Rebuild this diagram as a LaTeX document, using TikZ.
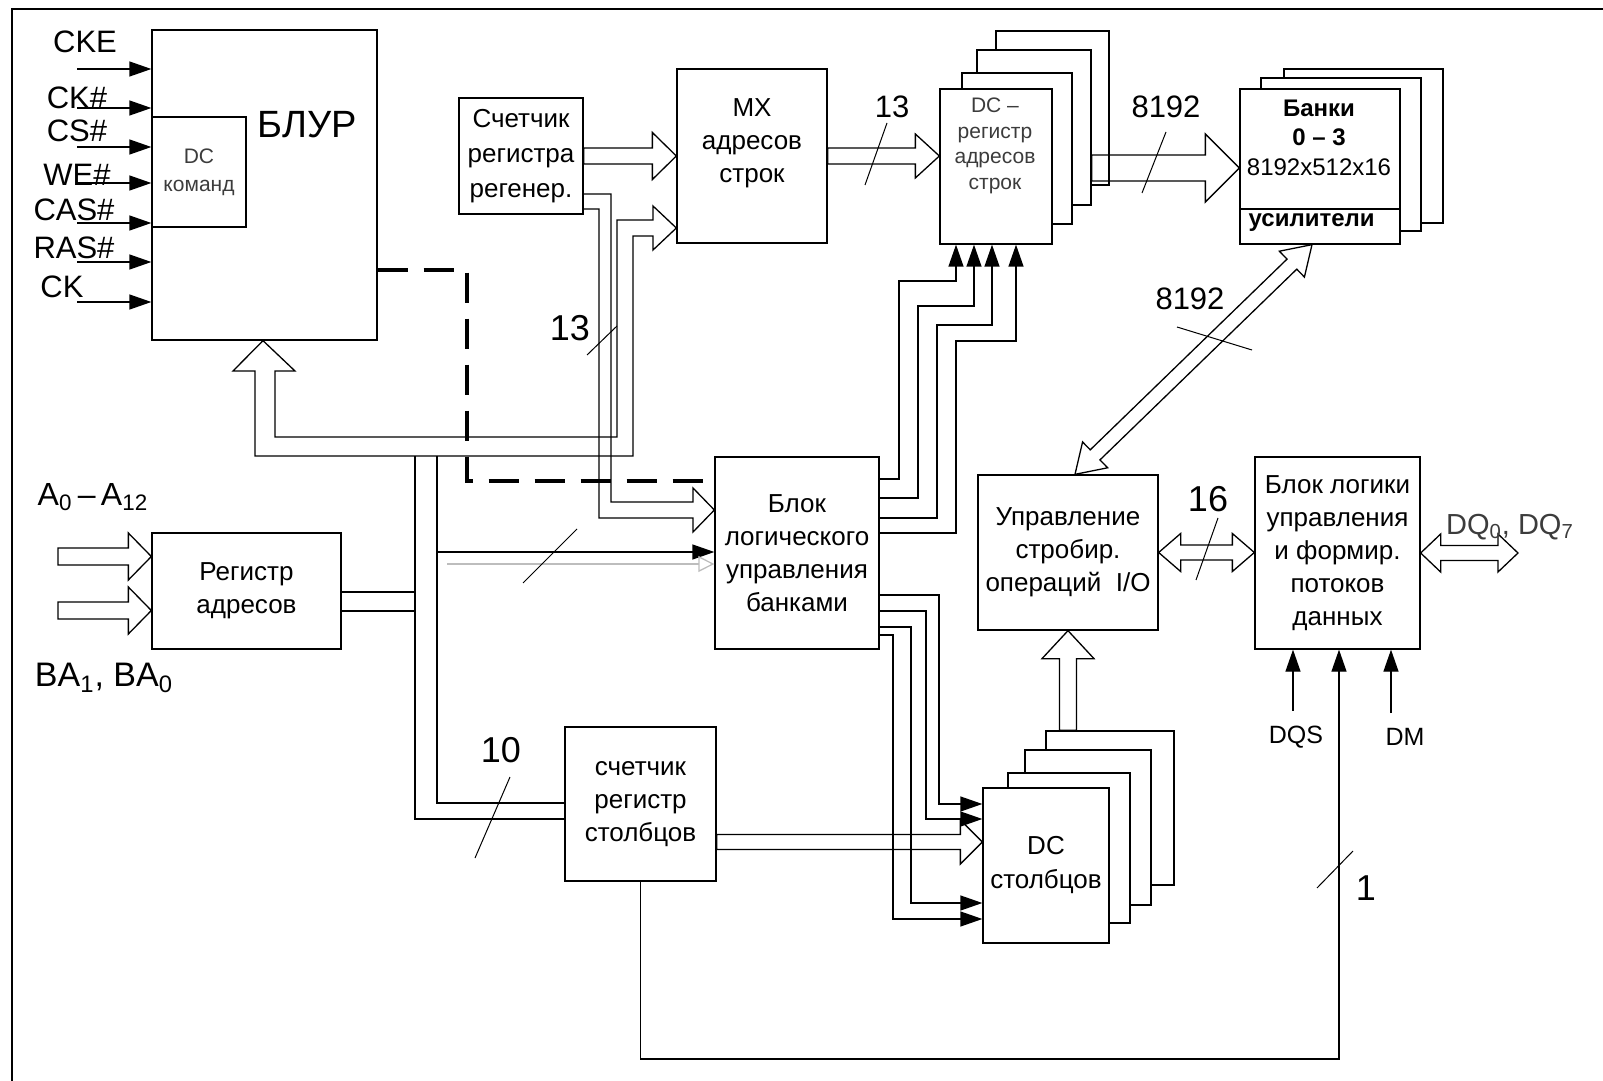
\documentclass[tikz,border=0pt]{standalone}
\usepackage{fontspec}
\setmainfont{Liberation Sans}
\usepackage{tikz}
\usetikzlibrary{arrows.meta,calc}
\definecolor{Faint}{HTML}{3C3C3C}
\definecolor{Ghost}{HTML}{BDBDBD}
\tikzset{
  blk/.style={draw,fill=white,inner sep=0pt,align=center,font=\fontsize{13}{16.5}\selectfont},
  btxt/.style={align=center,font=\fontsize{13}{16.5}\selectfont},
  sig/.style={-{Triangle[length=11pt,width=7.5pt]}},
  pinlbl/.style={font=\fontsize{15.5}{18}\selectfont},
  wlbl/.style={font=\fontsize{15.5}{18}\selectfont},
  wlblbig/.style={font=\fontsize{18}{21}\selectfont},
  sigtxt/.style={font=\fontsize{12.5}{15}\selectfont},
  dashctl/.style={line width=2pt,dash pattern=on 15pt off 8pt},
  busmark/.style={line width=0.5pt}
}
\newcommand{\busarrow}[5]{%
  \coordinate (hb) at ($(#5)!#1!(#4)$);
  \draw ($(#4)!#3!90:(#5)$) -- ($(hb)!#3!-90:(#4)$) -- ($(hb)!#2!-90:(#4)$)
    -- (#5) -- ($(hb)!#2!90:(#4)$) -- ($(hb)!#3!90:(#4)$) -- ($(#4)!#3!-90:(#5)$) -- cycle;}
\newcommand{\biarrow}[5]{%
  \coordinate (ha) at ($(#4)!#1!(#5)$);
  \coordinate (hb) at ($(#5)!#1!(#4)$);
  \draw (#4) -- ($(ha)!#2!90:(#5)$) -- ($(ha)!#3!90:(#5)$) -- ($(hb)!#3!-90:(#4)$)
    -- ($(hb)!#2!-90:(#4)$) -- (#5) -- ($(hb)!#2!90:(#4)$) -- ($(hb)!#3!90:(#4)$)
    -- ($(ha)!#3!-90:(#5)$) -- ($(ha)!#2!-90:(#5)$) -- cycle;}

\begin{document}
\begin{tikzpicture}[x=0.5pt,y=-0.5pt,line width=0.65pt]
  \useasboundingbox (0,0) rectangle (1603,1081);
  \draw[line width=1.2pt] (12,1081) -- (12,9) -- (1603,9);

  \node[blk,minimum width=112.5pt,minimum height=155pt] (blur) at (264.5,185) {};
  \node[font=\fontsize{19}{22}\selectfont] (blurt) at (307,125) {БЛУР};
  \node[blk,minimum width=47pt,minimum height=55pt,text=Faint,font=\fontsize{10.5}{14}\selectfont] (dccmd) at (199,172) {DC\\команд};
  \node[blk,minimum width=62pt,minimum height=58pt,font=\fontsize{13}{17.5}\selectfont] (regen) at (521,156) {Счетчик\\регистра\\регенер.};
  \node[blk,minimum width=75pt,minimum height=87pt] (mx) at (752,156) {};
  \node[btxt] (mxt) at (752,143) {MX\\адресов\\строк};

  \node[blk,minimum width=56.5pt,minimum height=77pt] (dcrow4) at (1052.5,108) {};
  \node[blk,minimum width=57pt,minimum height=77.5pt] (dcrow3) at (1034,127.5) {};
  \node[blk,minimum width=55pt,minimum height=75.5pt] (dcrow2) at (1017,148.5) {};
  \node[blk,minimum width=56pt,minimum height=77.5pt] (dcrow) at (996,166.5) {};
  \node[align=center,text=Faint,font=\fontsize{10.5}{12.8}\selectfont] (dcrowt) at (995,146) {DC –\\регистр\\адресов\\строк};

  \node[blk,minimum width=79.5pt,minimum height=77pt] (banks3) at (1363.5,146) {};
  \node[blk,minimum width=80pt,minimum height=76.5pt] (banks2) at (1341,154.5) {};
  \node[blk,minimum width=80pt,minimum height=77.5pt] (banks) at (1320,166.5) {};
  \draw (banks.west |- 0,209) -- (banks.east |- 0,209);
  \node[font=\bfseries\fontsize{12}{14}\selectfont] (bankst) at (1319,108) {Банки};
  \node[font=\bfseries\fontsize{12}{14}\selectfont] (bankn) at (1319,137) {0 – 3};
  \node[font=\fontsize{12}{14}\selectfont] (banksz) at (1319,167) {8192x512x16};
  \node[font=\bfseries\fontsize{12}{14}\selectfont,anchor=west,inner sep=0pt] (amp) at (1248,223) {усилители};

  \node[blk,minimum width=94.5pt,minimum height=58pt] (regaddr) at (246.5,591) {Регистр\\адресов};
  \node[blk,minimum width=82pt,minimum height=96pt] (bankctl) at (797,553) {Блок\\логического\\управления\\банками};
  \node[blk,minimum width=75.5pt,minimum height=77pt] (colcnt) at (640.5,804) {счетчик\\регистр\\столбцов};

  \node[blk,minimum width=64pt,minimum height=77pt] (dccol4) at (1110,808) {};
  \node[blk,minimum width=63pt,minimum height=77.5pt] (dccol3) at (1088,827.5) {};
  \node[blk,minimum width=61pt,minimum height=75pt] (dccol2) at (1069,848) {};
  \node[blk,minimum width=63pt,minimum height=77.5pt,font=\fontsize{13}{17}\selectfont] (dccol) at (1046,865.5) {DC\\столбцов};

  \node[blk,minimum width=90pt,minimum height=77.5pt] (ioctl) at (1068,552.5) {Управление\\стробир.\\операций\ \ I/O};
  \node[blk,minimum width=82.5pt,minimum height=96pt] (dflow) at (1337.5,553) {Блок логики\\управления\\и формир.\\потоков\\данных};

  \foreach \y/\txt/\lx/\ly [count=\i] in {69/CKE/85/42,108/CK\#/77/98,147/CS\#/77/131,183/WE\#/77/175,223/CAS\#/74/210,262/RAS\#/74/248,302/CK/62/287}{
    \node[pinlbl] (pin\i) at (\lx,\ly) {\txt};
    \draw[sig] (77,\y) -- (blur.west |- 0,\y);
  }

  \draw (633,456) -- (255,456) -- (255,371) -- (233,371) -- (blur.south -| 263,0) -- (295,371) -- (275,371)
    -- (275,437) -- (617,437) -- (617,220) -- (653,220) -- (653,206) -- (mx.west |- 0,228) -- (653,250)
    -- (653,236) -- (633,236) -- cycle;
  \draw (regaddr.east |- 0,592) -- (415,592);
  \draw (regaddr.east |- 0,611) -- (415,611);
  \draw (415,456) -- (415,819) -- (colcnt.west |- 0,819);
  \draw (437,456) -- (437,803) -- (colcnt.west |- 0,803);
  \draw[sig] (437,552) -- (bankctl.west |- 0,552);
  \coordinate (ghost) at (447,564);
  \draw[Ghost,-{Triangle[open,length=8pt,width=8pt]}] (ghost) -- (bankctl.west |- ghost);

  \draw (regen.east |- 0,194) -- (611,194) -- (611,502) -- (693,502) -- (693,488) -- (bankctl.west |- 0,510)
    -- (693,532) -- (693,518) -- (599,518) -- (599,209) -- (regen.east |- 0,209);
  \draw[dashctl] (blur.east |- 0,270) -- (467,270) -- (467,481) -- (bankctl.west |- 0,481);

  \busarrow{12pt}{11.75pt}{4pt}{regen.east}{mx.west}
  \coordinate (rowin) at (dcrow.west |- mx.east);
  \busarrow{12pt}{11pt}{4pt}{mx.east}{rowin}
  \coordinate (r8a) at (dcrow3.east |- 0,168);
  \coordinate (r8b) at (banks.west |- 0,168);
  \busarrow{17pt}{17pt}{6.5pt}{r8a}{r8b}
  \coordinate (c8a) at (colcnt.east |- 0,842);
  \coordinate (c8b) at (dccol.west |- 0,842);
  \busarrow{11pt}{11pt}{3.75pt}{c8a}{c8b}
  \coordinate (ioa) at (ioctl.south |- dccol4.north);
  \busarrow{14pt}{13pt}{4.25pt}{ioa}{ioctl.south}
  \coordinate (ain) at (58,556.5);
  \coordinate (aout) at (regaddr.west |- ain);
  \busarrow{11.5pt}{11.75pt}{4.25pt}{ain}{aout}
  \coordinate (bain) at (58,610.5);
  \coordinate (baout) at (regaddr.west |- bain);
  \busarrow{11.5pt}{11.75pt}{4.25pt}{bain}{baout}

  \coordinate (s8a) at (ioctl.north -| 1075,0);
  \coordinate (s8b) at (banks.south -| 1312,0);
  \biarrow{14pt}{9pt}{3.5pt}{s8a}{s8b}
  \coordinate (d16) at (dflow.west |- ioctl.east);
  \biarrow{11pt}{9.5pt}{3.75pt}{ioctl.east}{d16}
  \coordinate (dq) at (1518,553);
  \biarrow{10pt}{9.5pt}{3.75pt}{dflow.east}{dq}

  \draw[sig] (bankctl.east |- 0,479) -- (899,479) -- (899,281) -- (956,281) -- (dcrow.south -| 956,0);
  \draw[sig] (bankctl.east |- 0,498) -- (918,498) -- (918,306) -- (974,306) -- (dcrow.south -| 974,0);
  \draw[sig] (bankctl.east |- 0,518) -- (937,518) -- (937,325) -- (992,325) -- (dcrow.south -| 992,0);
  \draw[sig] (bankctl.east |- 0,533) -- (956,533) -- (956,341) -- (1016,341) -- (dcrow.south -| 1016,0);

  \draw[sig] (bankctl.east |- 0,595) -- (939,595) -- (939,804) -- (dccol.west |- 0,804);
  \draw[sig] (bankctl.east |- 0,611) -- (926,611) -- (926,819) -- (dccol.west |- 0,819);
  \draw[sig] (bankctl.east |- 0,627) -- (911,627) -- (911,903) -- (dccol.west |- 0,903);
  \draw[sig] (bankctl.east |- 0,635) -- (893,635) -- (893,919) -- (dccol.west |- 0,919);

  \coordinate (fb) at (1339,1059);
  \draw[sig] (colcnt.south) |- (fb) -- (dflow.south -| fb);
  \node[sigtxt] (dqs) at (1296,737) {DQS};
  \node[sigtxt] (dm) at (1405,737) {DM};
  \draw[sig,shorten <=4pt] (dqs.north -| 1293,0) -- (dflow.south -| 1293,0);
  \draw[sig,shorten <=4pt] (dm.north -| 1391,0) -- (dflow.south -| 1391,0);

  \node[font=\fontsize{16}{18}\selectfont] (alab) at (93,497) {A\textsubscript{0}\,–\,A\textsubscript{12}};
  \node[font=\fontsize{17}{19}\selectfont] (balab) at (104,678) {BA\textsubscript{1}, BA\textsubscript{0}};
  \node[font=\fontsize{14.5}{17}\selectfont,text=Faint] (dqlab) at (1510,527) {DQ\textsubscript{0}, DQ\textsubscript{7}};

  \node[wlbl] (w13a) at (892,107) {13};
  \draw[busmark] (865,185) -- (887,123);
  \node[wlbl] (w8192a) at (1166,107) {8192};
  \draw[busmark] (1142,193) -- (1166,132);
  \node[wlblbig] (w13b) at (570,328) {13};
  \draw[busmark] (587,355) -- (617,326);
  \draw[busmark] (523,583) -- (577,529);
  \node[wlbl] (w8192b) at (1190,299) {8192};
  \draw[busmark] (1177,327) -- (1252,350);
  \node[wlblbig] (w16) at (1208,499) {16};
  \draw[busmark] (1196,580) -- (1218,518);
  \node[wlblbig] (w10) at (501,750) {10};
  \draw[busmark] (475,858) -- (510,777);
  \node[wlblbig] (w1) at (1366,888) {1};
  \draw[busmark] (1317,888) -- (1353,851);
\end{tikzpicture}
\end{document}
